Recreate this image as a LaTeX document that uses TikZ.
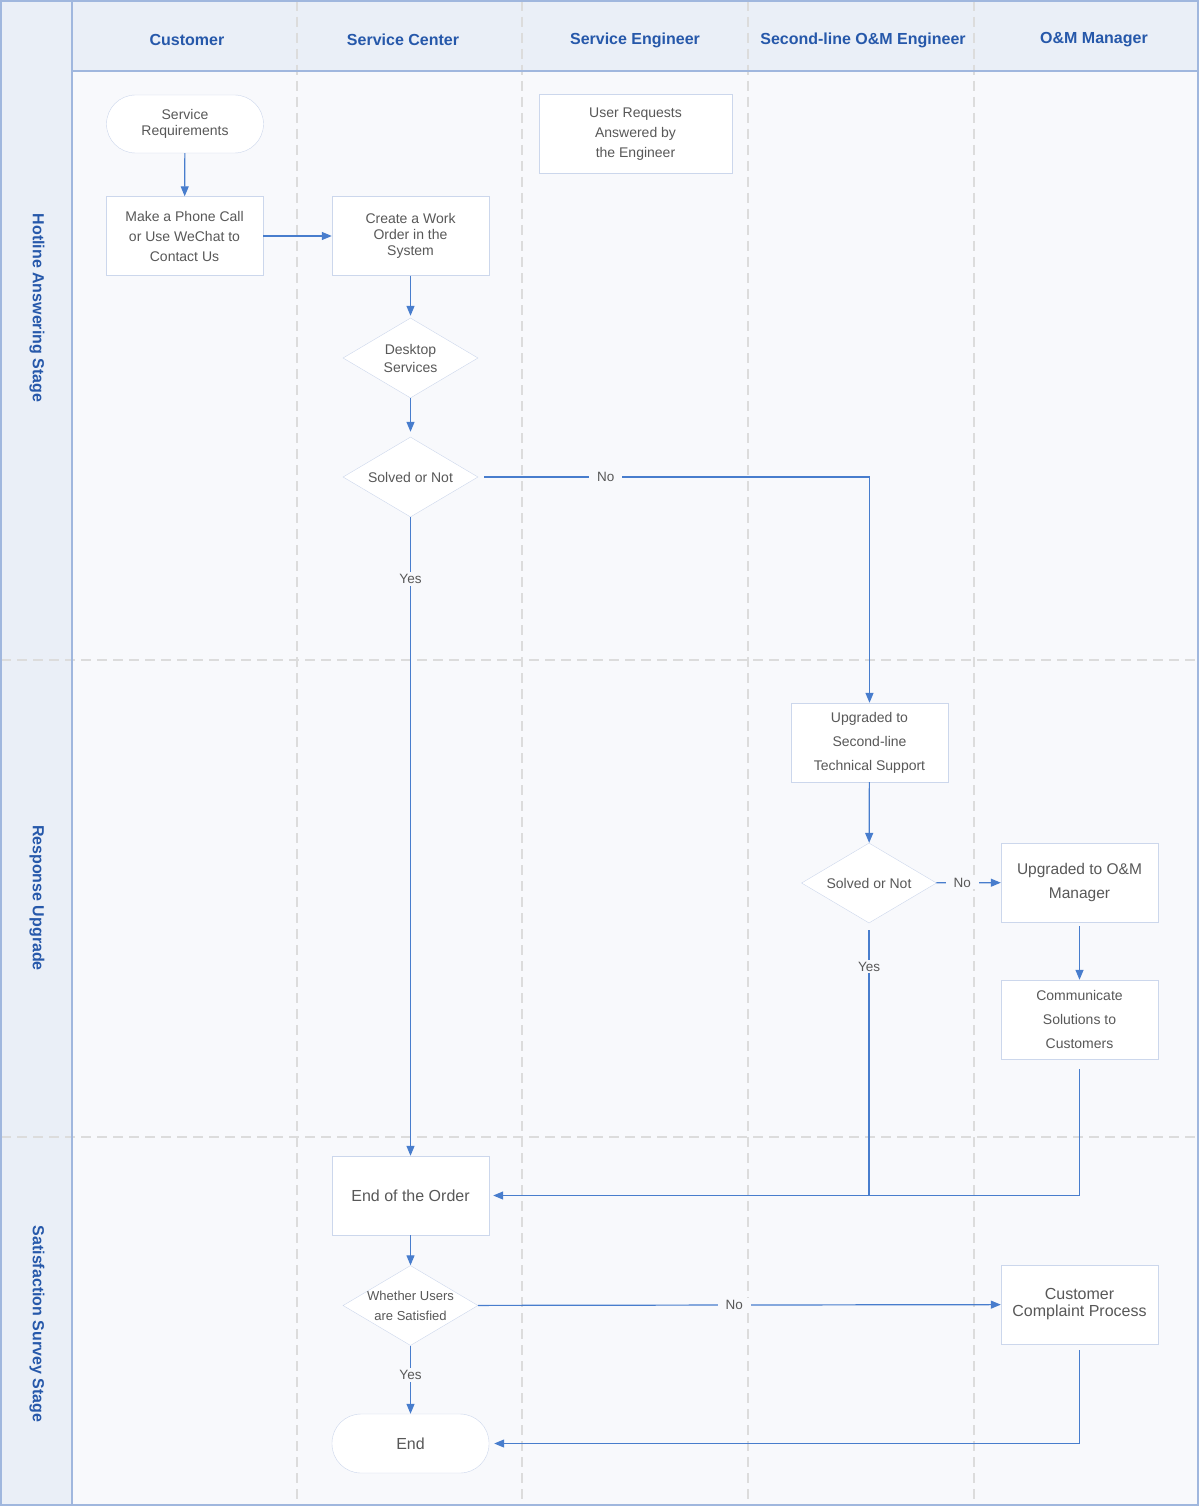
\documentclass[tikz,border=0pt]{standalone}
\usepackage{fontspec}
\setmainfont{Liberation Sans}
\usetikzlibrary{shapes.geometric,arrows.meta}

\definecolor{headfill}{RGB}{234,239,247}
\definecolor{bodyfill}{RGB}{248,249,252}
\definecolor{framecol}{RGB}{160,183,222}
\definecolor{headtext}{RGB}{38,88,170}
\definecolor{nodeline}{RGB}{204,215,236}
\definecolor{nodetext}{RGB}{88,88,88}
\definecolor{flowcol}{RGB}{72,125,205}
\definecolor{lanecol}{RGB}{220,220,220}
\newcommand{\fsz}[2]{\fontsize{#1}{#2}\selectfont}

\begin{document}
\begin{tikzpicture}
[x=1pt,y=-1pt,%
  headdecorate/.style={text=headtext,font=\fsz{16}{19}\bfseries},%
  stagedecorate/.style={text=headtext,font=\fsz{16}{19}\bfseries,rotate=-90},%
  procdecorate/.style={shape=rectangle,draw=nodeline,fill=white,minimum width=157,
    minimum height=79,align=center,text=nodetext,font=\fsz{14}{20}},%
  termdecorate/.style={procdecorate,rounded corners=29,minimum height=58},%
  decidedecorate/.style={shape=diamond,draw=nodeline,fill=white,minimum width=135,
    minimum height=80,inner sep=0pt},%
  decidetext/.style={align=center,text=nodetext,font=\fsz{14}{18}},%
  lanedecorate/.style={lanecol,line width=1.6pt,dash pattern=on 10pt off 6pt},%
  linedecorate/.style={-,flowcol,line width=1.2pt},%
  flowdecorate/.style={linedecorate,-{Triangle[length=10pt,width=8pt]}},%
  branchdecorate/.style={fill=bodyfill,text=nodetext,font=\fsz{13.5}{16},
    inner xsep=8pt,inner ysep=2pt}]
\useasboundingbox (0,0) rectangle (1202,1506);
%% background and lanes
\fill[bodyfill] (1,1) rectangle (1198,1505);
\fill[headfill] (1,1) rectangle (1198,71);
\fill[headfill] (1,1) rectangle (72,1505);
\foreach \x in {297,522,748,974}
{
  \draw[lanedecorate] (\x,1) -- (\x,1505);
}
\foreach \y in {660,1137}
{
  \draw[lanedecorate] (1,\y) -- (1198,\y);
}
\draw[framecol,line width=1.2pt] (1,1) rectangle (1198,1505);
\draw[framecol,line width=1.2pt] (72,1) -- (72,1505);
\draw[framecol,line width=1.2pt] (72,71) -- (1198,71);
%% headers and stages
\foreach \lanename/\x/\title in {customer/187/Customer, center/403/Service Center,
  engineer/635/Service Engineer, secondline/863/Second-line O\&M Engineer,
  manager/1094/O\&M Manager}
{
  \node (\lanename) at (\x,40) [headdecorate] {\title};
}
\foreach \stagename/\y/\title in {hotline/308/Hotline Answering Stage,
  upgrade/898/Response Upgrade, survey/1324/Satisfaction Survey Stage}
{
  \node (\stagename) at (37,\y) [stagedecorate] {\title};
}
%% nodes
\node (req) at (185,124) [termdecorate,font=\fsz{14}{16}] {Service\\Requirements};
\node (call) at (184.5,236) [procdecorate] {Make a Phone Call\\or Use WeChat to\\Contact Us};
\node (order) at (410.5,236) [procdecorate,font=\fsz{14}{16}] {Create a Work\\Order in the\\System};
\node (answer) at (635.5,134) [procdecorate,minimum width=193] {User Requests\\Answered by\\the Engineer};
\node (desk) at (410.5,358) [decidedecorate,label={[decidetext]center:Desktop\\Services}] {};
\node (solved) at (410.5,477) [decidedecorate,label={[decidetext]center:Solved or Not}] {};
\node (second) at (869.5,742.5) [procdecorate,font=\fsz{14}{24}] {Upgraded to\\Second-line\\Technical Support};
\node (solvedtwo) at (869,883) [decidedecorate,label={[decidetext]center:Solved or Not}] {};
\node (omm) at (1079.5,882.5) [procdecorate,font=\fsz{15.5}{24}] {Upgraded to O\&M\\Manager};
\node (comm) at (1079.5,1019.5) [procdecorate,font=\fsz{14}{24}] {Communicate\\Solutions to\\Customers};
\node (endorder) at (410.5,1195.5) [procdecorate,font=\fsz{16}{19}] {End of the Order};
\node (satisfied) at (410.5,1305.5) [decidedecorate,
  label={[decidetext,font=\fsz{13}{20}]center:Whether Users\\are Satisfied}] {};
\node (complaint) at (1079.5,1304.5) [procdecorate,font=\fsz{16}{17}] {Customer\\Complaint Process};
\node (finish) at (410.5,1443.5) [termdecorate,minimum height=59,font=\fsz{16}{19}] {End};
%% connectors
\draw[flowdecorate] (req) -- (call);
\draw[flowdecorate] (call) -- (order);
\draw[flowdecorate,shorten >=2pt] (order) -- (desk);
\draw[flowdecorate,shorten >=5pt] (desk) -- (solved);
\draw[flowdecorate,shorten <=6pt] (solved.east) -| node[pos=0.163,branchdecorate] {No} (second.north);
\draw[flowdecorate] (solved) -- node[pos=0.097,branchdecorate] {Yes} (endorder);
\draw[flowdecorate] (second) -- (solvedtwo);
\draw[flowdecorate] (solvedtwo) -- node[pos=0.4,branchdecorate] {No} (omm);
\draw[flowdecorate,shorten <=4pt] (omm) -- (comm);
\draw[linedecorate,shorten <=7pt] (solvedtwo.south) -- node[pos=0.16,branchdecorate] {Yes}
  (solvedtwo.south |- endorder.east);
\draw[flowdecorate,shorten <=10pt,shorten >=4pt] (comm.south) |- (endorder.east);
\draw[flowdecorate] (endorder) -- (satisfied);
\draw[flowdecorate] (satisfied) -- node[pos=0.49,branchdecorate] {No} (complaint);
\draw[flowdecorate] (satisfied) -- node[pos=0.43,branchdecorate] {Yes} (finish);
\draw[flowdecorate,shorten <=6pt,shorten >=5pt] (complaint.south) |- (finish.east);
\end{tikzpicture}
\end{document}
